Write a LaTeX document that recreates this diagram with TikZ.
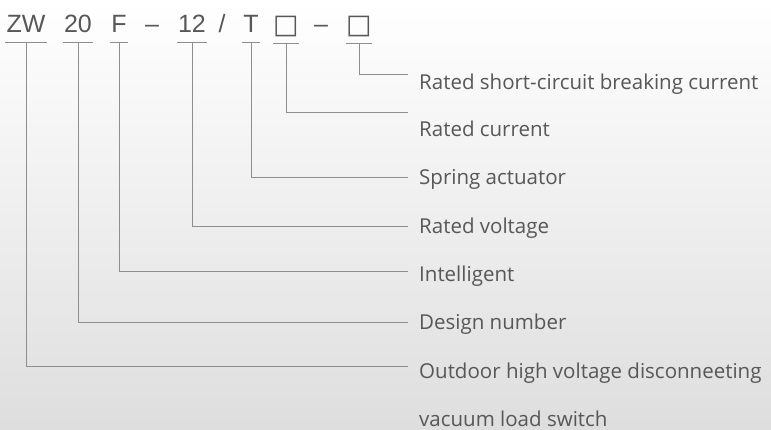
\documentclass[tikz,border=0pt]{standalone}
\usepackage{fontspec}
\setmainfont{Open Sans}
\newfontfamily\codefont{Liberation Sans}
\newfontfamily\symfont{DejaVu Sans}
\usetikzlibrary{positioning}
\definecolor{inkgray}{HTML}{575757}
\definecolor{linegray}{HTML}{8E8E8E}
\tikzset{
	part/.style={font=\codefont\fontsize{25}{25}\selectfont,text=inkgray,anchor=base,
		inner xsep=1pt,inner ysep=9pt,text depth=0pt},
	sep/.style={font=\codefont\fontsize{25}{25}\selectfont,text=inkgray,anchor=base,inner sep=0pt},
	slot/.style={part,font=\symfont\fontsize{27}{27}\selectfont,inner xsep=0pt},
	meaning/.style={font=\fontsize{20.5}{20.5}\selectfont,text=inkgray,anchor=base west,inner sep=0pt},
	lead/.style={linegray,line width=0.8pt}
}

\begin{document}
\begin{tikzpicture}[x=1pt,y=-1pt]
	\useasboundingbox (0,0) rectangle (771,430);
	\fill[top color=white,bottom color=gray!26] (0,0) rectangle (771,430);
	% the type code
	\node[part] (zw) at (26,33) {ZW};
	\node[part] (twenty) at (78,33) {20};
	\node[part] (f) at (119,33) {F};
	\node[sep] (dasha) at (152,33) {–};
	\node[part] (twelve) at (192,33) {12};
	\node[sep] (slash) at (222,33) {/};
	\node[part] (t) at (251,33) {T};
	\node[slot] (boxa) at (286,34) {□};
	\node[sep] (dashb) at (321,33) {–};
	\node[slot] (boxb) at (359,34) {□};
	% what each part stands for
	\node[meaning] (breaking) at (419,90) {Rated short-circuit breaking current};
	\node[meaning] (current) at (419,137) {Rated current};
	\node[meaning] (spring) at (419,185) {Spring actuator};
	\node[meaning] (voltage) at (419,234) {Rated voltage};
	\node[meaning] (intel) at (419,282) {Intelligent};
	\node[meaning] (design) at (419,330) {Design number};
	\node[meaning] (outdoor) at (419,378) {Outdoor high voltage disconneeting};
	\node[meaning] (vacuum) at (419,426) {vacuum load switch};
	% underlines
	\foreach \p in {zw,twenty,f,twelve,t,boxa,boxb}
		\draw[lead] (\p.south west) -- (\p.south east);
	% leader lines, ending short of the texts
	\coordinate (e1) at (408,74);
	\coordinate (e2) at (408,112);
	\coordinate (e3) at (408,177);
	\coordinate (e4) at (408,226);
	\coordinate (e5) at (408,271);
	\coordinate (e6) at (408,322);
	\coordinate (e7) at (408,366);
	\draw[lead] (boxb.south) |- (e1);
	\draw[lead] (boxa.south) |- (e2);
	\draw[lead] (t.south) |- (e3);
	\draw[lead] (twelve.south) |- (e4);
	\draw[lead] (f.south) |- (e5);
	\draw[lead] (twenty.south) |- (e6);
	\draw[lead] (zw.south) |- (e7);
\end{tikzpicture}
\end{document}
